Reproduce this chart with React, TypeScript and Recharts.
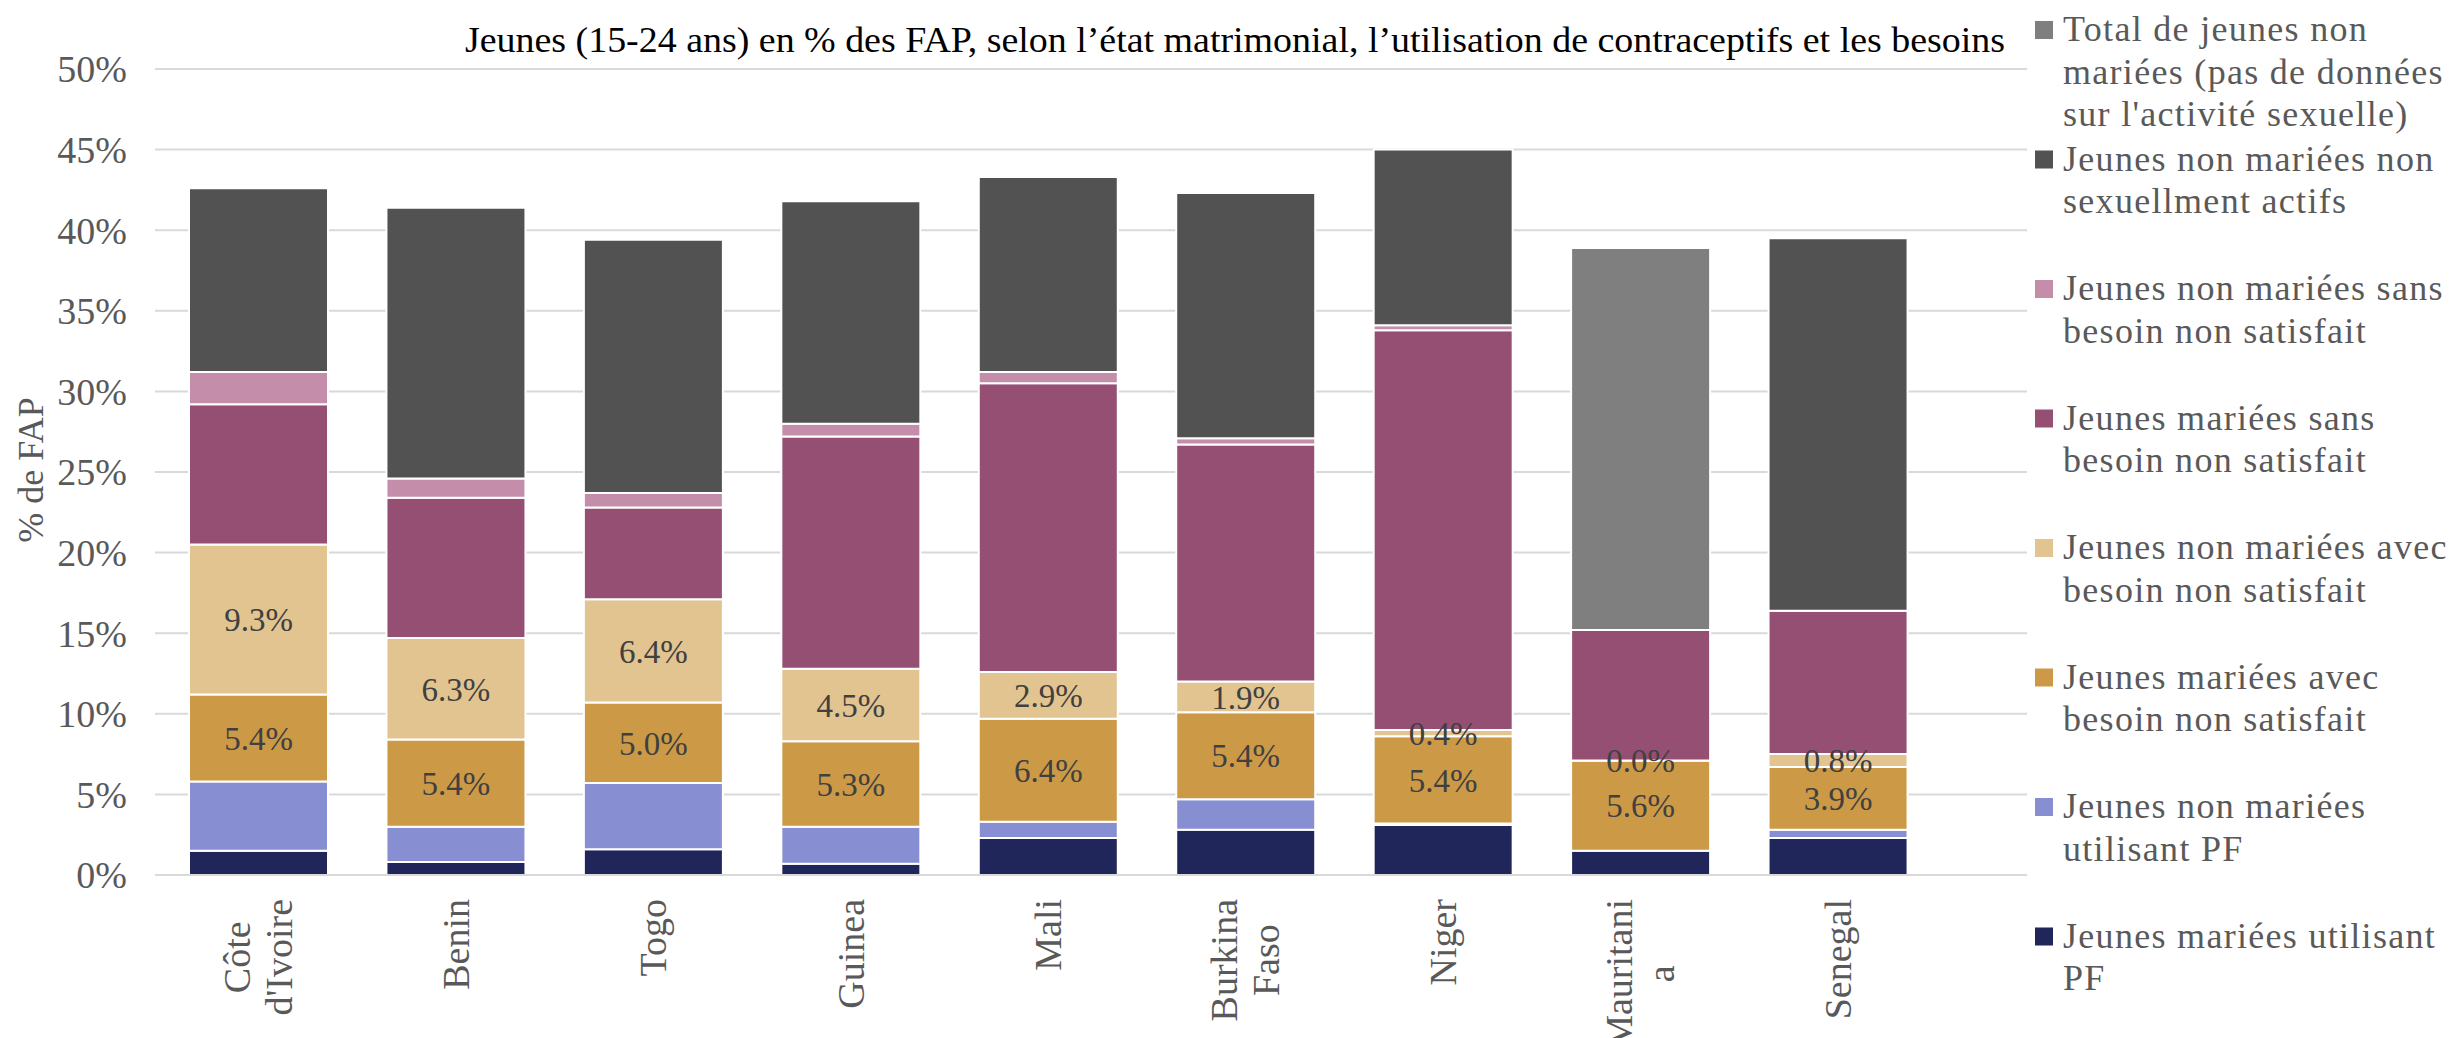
import React from 'react';
import { BarChart, Bar, XAxis, YAxis, CartesianGrid, LabelList } from 'recharts';

const FONT = '"Liberation Serif", "Times New Roman", serif';

// categories as shown on the axis (line breaks as in the original)
const countries = ["Côte\nd'Ivoire", 'Benin', 'Togo', 'Guinea', 'Mali', 'Burkina\nFaso', 'Niger', 'Mauritani\na', 'Senegal'];

// values in % of FAP, bottom of stack first
const marieesPF = [1.5, 0.8, 1.6, 0.7, 2.3, 2.8, 3.1, 1.5, 2.3];
const nonMarieesPF = [4.3, 2.2, 4.1, 2.3, 1.0, 1.9, 0.1, 0, 0.5];
const marieesAvecBesoin = [5.4, 5.4, 5.0, 5.3, 6.4, 5.4, 5.4, 5.6, 3.9];
const nonMarieesAvecBesoin = [9.3, 6.3, 6.4, 4.5, 2.9, 1.9, 0.4, 0.001, 0.8];
const marieesSansBesoin = [8.7, 8.7, 5.7, 14.4, 17.9, 14.7, 24.8, 8.1, 8.9];
const nonMarieesSansBesoin = [2.0, 1.2, 0.9, 0.8, 0.7, 0.4, 0.3, 0, 0];
const nonSexActifs = [11.4, 16.8, 15.7, 13.8, 12.1, 15.2, 10.9, 0, 23.1];
const totalNonMariees = [0, 0, 0, 0, 0, 0, 0, 23.7, 0];

const yTicks = [0, 5, 10, 15, 20, 25, 30, 35, 40, 45, 50];

const series = [
  { key: 'mPF', values: marieesPF, color: '#20255A', legend: ['Jeunes mariées utilisant', 'PF'] },
  { key: 'nmPF', values: nonMarieesPF, color: '#878FD2', legend: ['Jeunes non mariées', 'utilisant PF'] },
  { key: 'mAvec', values: marieesAvecBesoin, color: '#CC9A46', legend: ['Jeunes mariées avec', 'besoin non satisfait'], labelled: true },
  { key: 'nmAvec', values: nonMarieesAvecBesoin, color: '#E2C490', legend: ['Jeunes non mariées avec', 'besoin non satisfait'], labelled: true },
  { key: 'mSans', values: marieesSansBesoin, color: '#954F72', legend: ['Jeunes mariées sans', 'besoin non satisfait'] },
  { key: 'nmSans', values: nonMarieesSansBesoin, color: '#C48EAA', legend: ['Jeunes non mariées sans', 'besoin non satisfait'] },
  { key: 'nsa', values: nonSexActifs, color: '#525252', legend: ['Jeunes non mariées non', 'sexuellment actifs'] },
  { key: 'total', values: totalNonMariees, color: '#7F7F7F', legend: ['Total de jeunes non', 'mariées (pas de données', "sur l'activité sexuelle)"] },
];

const data = countries.map((c, i) => {
  const row: Record<string, any> = { country: c };
  series.forEach((s) => { row[s.key] = s.values[i]; });
  return row;
});

let ctx: CanvasRenderingContext2D | null = null;
const measure = (s: string) => {
  if (!ctx) ctx = document.createElement('canvas').getContext('2d');
  if (!ctx) return s.length * 17;
  ctx.font = `38px ${FONT}`;
  return ctx.measureText(s).width;
};

const CountryTick = ({ x, y, payload }: any) => {
  const lines = String(payload.value).split('\n');
  const len = Math.max(...lines.map(measure));
  const cy = y + 24 + len / 2;
  return (
    <g transform={`translate(${x},${cy}) rotate(-90)`}>
      {lines.map((l, i) => (
        <text key={i} x={0} y={(i - (lines.length - 1) / 2) * 42} dy="0.33em" textAnchor="middle"
          fill="#595959" fontSize={38} fontFamily={FONT}>{l}</text>
      ))}
    </g>
  );
};

const Legend = () => (
  <svg width={2459} height={1038} style={{ position: 'absolute', left: 0, top: 0, pointerEvents: 'none' }}>
    <text x={465} y={52} fontSize={36} fontFamily={FONT} fill="#000" textLength={1540} lengthAdjust="spacingAndGlyphs">
      Jeunes (15-24 ans) en % des FAP, selon l’état matrimonial, l’utilisation de contraceptifs et les besoins
    </text>
    <text transform="translate(43,470) rotate(-90)" textAnchor="middle" fontSize={36} fontFamily={FONT} fill="#595959">% de FAP</text>
    {[...series].reverse().map((s, i) => {
      const base = 41 + i * 129.5;
      return (
        <g key={s.key}>
          <rect x={2035} y={base - 20} width={18} height={18} fill={s.color} />
          {s.legend.map((l, j) => (
            <text key={j} x={2063} y={base + j * 42.5} fontSize={36} letterSpacing={1.3} fontFamily={FONT} fill="#595959">{l}</text>
          ))}
        </g>
      );
    })}
  </svg>
);

export default function App() {
  return (
    <div style={{ position: 'absolute', left: 0, top: 0, width: 2459, height: 1038, background: '#fff', fontFamily: FONT }}>
      <BarChart width={2459} height={1038} data={data} margin={{ top: 69, right: 432, bottom: 0, left: 0 }} barSize={139}>
        <CartesianGrid vertical={false} stroke="#D9D9D9" strokeWidth={2} />
        <XAxis dataKey="country" height={163} interval={0} padding={{ left: 5, right: 90 }}
          axisLine={{ stroke: '#D9D9D9', strokeWidth: 2 }}
          tickLine={false} tickSize={0} tickMargin={0} tick={<CountryTick />} />
        <YAxis width={155} domain={[0, 50]} ticks={yTicks} tickFormatter={(v) => `${v}%`} axisLine={false}
          tickLine={false} tickSize={0} tickMargin={28} tick={{ fill: '#595959', fontSize: 38, fontFamily: FONT }} />
        {series.map((s) => (
          <Bar key={s.key} dataKey={s.key} stackId="a" fill={s.color} stroke="#fff" strokeWidth={2} isAnimationActive={false}>
            {s.labelled && (
              <LabelList dataKey={s.key} position="center" formatter={(v: any) => `${Number(v).toFixed(1)}%`}
                fill="#404040" fontSize={33} fontFamily={FONT} />
            )}
          </Bar>
        ))}
      </BarChart>
      <Legend />
    </div>
  );
}
